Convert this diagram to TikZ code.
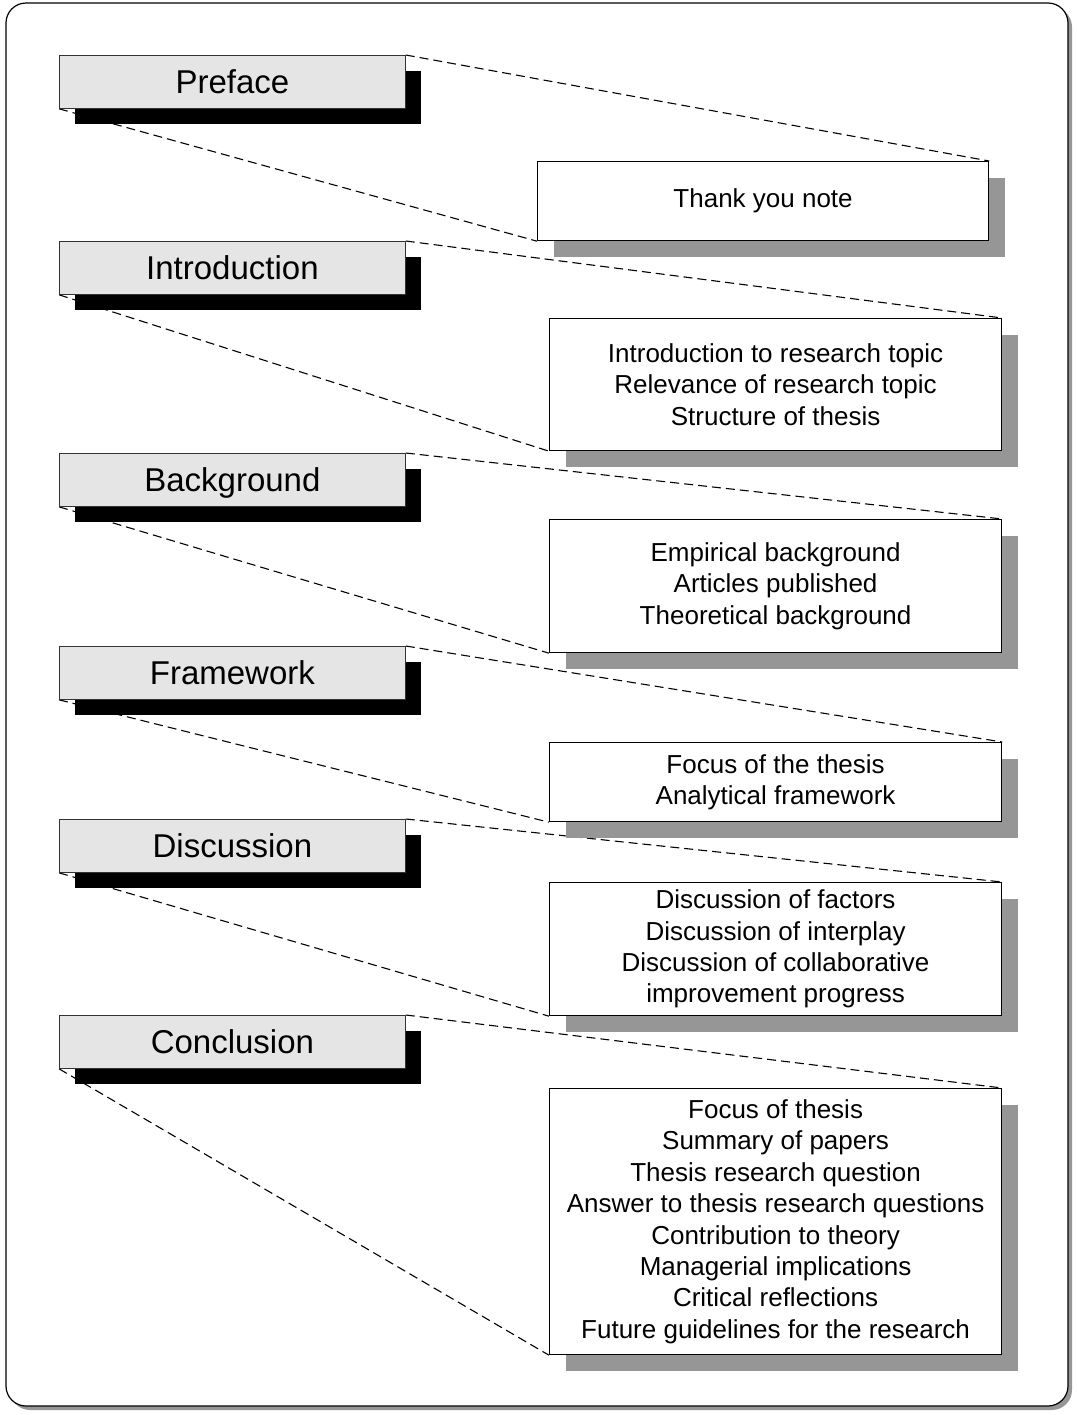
\documentclass[tikz,border=0pt]{standalone}
\usepackage{fontspec}
\setmainfont{Liberation Sans}
\usetikzlibrary{shadows}

\pgfdeclarelayer{frame}
\pgfdeclarelayer{lines}
\pgfsetlayers{frame,lines,main}

\begin{document}
\begin{tikzpicture}[x=0.5pt,y=-0.5pt]

\tikzstyle{chapter}=[draw=black!80,line width=0.4pt,fill=black!10,anchor=north west,minimum width=173pt,minimum height=26.5pt,inner sep=0pt,text height=12pt,text depth=0pt,font=\fontsize{16.5}{20}\selectfont,general shadow={fill=black,shadow xshift=8pt,shadow yshift=-8pt}]
\tikzstyle{content}=[draw=black,line width=0.6pt,fill=white,anchor=north west,inner sep=0pt,align=center,font=\fontsize{13}{15.7}\selectfont,general shadow={fill=black!41,shadow xshift=8pt,shadow yshift=-8pt}]
\tikzstyle{link}=[draw,dash pattern=on 4.5pt off 2.5pt,line width=0.55pt]

\useasboundingbox (0,0) rectangle (1077,1415);

% outer frame
\begin{pgfonlayer}{frame}
\draw[fill=white,line width=0.6pt,rounded corners=10pt,general shadow={fill=black!41,shadow xshift=2pt,shadow yshift=-2pt}] (6,3) rectangle (1068,1406);
\end{pgfonlayer}

% chapters
\foreach \name/\y/\title in {pre/55/Preface, intro/241/Introduction, bg/453/Background, fw/646/Framework, disc/819/Discussion, concl/1015/Conclusion}
{
  \node[chapter] (\name) at (59,\y) {\title};
}

% contents
\foreach \name/\x/\y/\w/\h/\body in {
  preC/537/161/225.5/39.5/{Thank you note},
  introC/549/318/226/66/{Introduction to research topic\\Relevance of research topic\\Structure of thesis},
  bgC/549/519/226/66.5/{Empirical background\\Articles published\\Theoretical background},
  fwC/549/742/226/39.5/{Focus of the thesis\\Analytical framework},
  discC/549/882/226/66.5/{Discussion of factors\\Discussion of interplay\\Discussion of collaborative\\improvement progress},
  conclC/549/1088/226/133/{Focus of thesis\\Summary of papers\\Thesis research question\\Answer to thesis research questions\\Contribution to theory\\Managerial implications\\Critical reflections\\Future guidelines for the research}}
{
  \node[content,minimum width=\w pt,minimum height=\h pt] (\name) at (\x,\y) {\body};
}

% dashed links
\begin{pgfonlayer}{lines}
\foreach \source in {pre,intro,bg,fw,disc,concl}
{
  \path[link] (\source.north east) -- (\source C.north east);
  \path[link] (\source.south west) -- (\source C.south west);
}
\end{pgfonlayer}
\end{tikzpicture}
\end{document}
